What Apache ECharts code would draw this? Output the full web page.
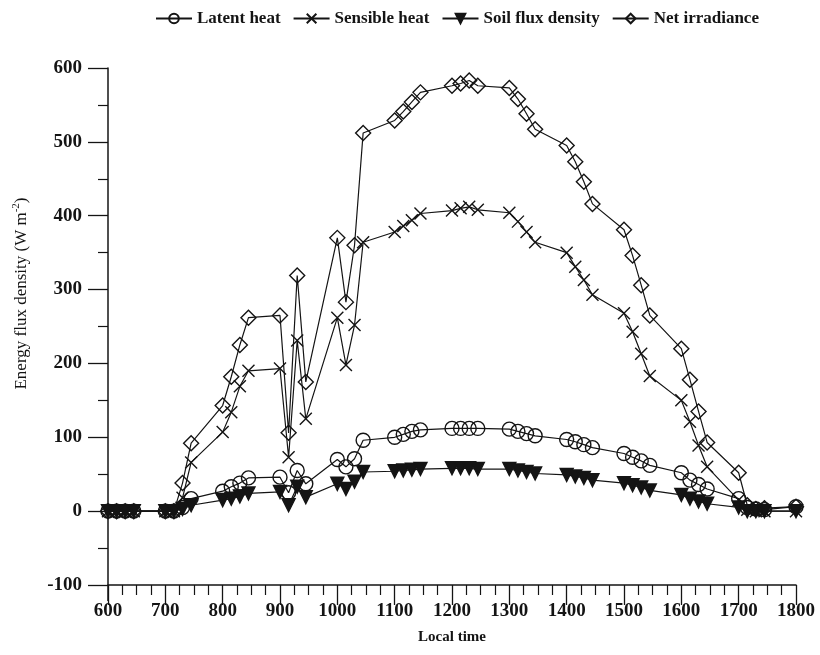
<!DOCTYPE html>
<html>
<head>
<meta charset="utf-8">
<script src="https://cdn.jsdelivr.net/npm/echarts@6/dist/echarts.min.js"></script>
<style>
  html, body { margin: 0; padding: 0; background: #fff; }
  #chart { width: 820px; height: 655px; }
</style>
</head>
<body>
<div id="chart"></div>
<script>
// Local time (hhmm), sampled every 15 minutes
const times = [
  600, 615, 630, 645,
  700, 715, 730, 745,
  800, 815, 830, 845,
  900, 915, 930, 945,
  1000, 1015, 1030, 1045,
  1100, 1115, 1130, 1145,
  1200, 1215, 1230, 1245,
  1300, 1315, 1330, 1345,
  1400, 1415, 1430, 1445,
  1500, 1515, 1530, 1545,
  1600, 1615, 1630, 1645,
  1700, 1715, 1730, 1745,
  1800
];

// Energy flux densities, W m-2
const latentHeat = [
  0, 0, 0, 0,
  0, 0, 5, 17,
  27, 33, 38, 45,
  46, 25, 55, 37,
  70, 60, 71, 96,
  100, 104, 108, 110,
  112, 112, 112, 112,
  111, 108, 105, 102,
  97, 94, 90, 86,
  78, 73, 68, 62,
  52, 42, 36, 30,
  17, 5, 3, 2,
  6
];

const sensibleHeat = [
  0, 0, 0, 0,
  0, 0, 18, 66,
  107, 134, 169, 190,
  193, 73, 231, 125,
  262, 198, 252, 364,
  378, 386, 394, 403,
  407, 410, 412, 408,
  404, 392, 378, 364,
  350, 331, 313, 293,
  268, 243, 213, 183,
  150, 121, 89, 60,
  15, 2, 0, 0,
  0
];

const soilFlux = [
  0, 0, 0, 0,
  0, 0, 3, 8,
  15, 17, 20, 24,
  26, 8, 33, 19,
  37, 30, 40, 53,
  54, 55, 56, 57,
  58, 58, 58, 57,
  57, 55, 53, 51,
  49, 47, 45, 42,
  38, 35, 32, 28,
  22, 17, 13, 10,
  5, 0, 0, 0,
  0
];

const netIrradiance = [
  0, 0, 0, 0,
  0, 0, 38, 92,
  143, 182, 225, 262,
  265, 106, 319, 175,
  370, 283, 360, 512,
  529, 541, 554, 567,
  576, 579, 583, 576,
  573, 558, 538, 517,
  495, 473, 446, 416,
  381, 346, 306, 265,
  220, 178, 135, 93,
  52, 8, 3, 4,
  6
];

const seriesNames = ['Latent heat', 'Sensible heat', 'Soil flux density', 'Net irradiance'];

const ink = '#141414';
const serif = '"Liberation Serif", "DejaVu Serif", serif';
const crossPath = 'path://M0,0L10,10M10,0L0,10';

function lineSeries(name, values, symbol, size, filled, rotate) {
  return {
    name: name,
    type: 'line',
    data: times.map((t, i) => [t, values[i]]),
    symbol: symbol,
    symbolSize: size,
    symbolRotate: rotate || 0,
    showAllSymbol: true,
    lineStyle: { color: ink, width: 1.2 },
    itemStyle: {
      color: filled ? ink : 'rgba(255,255,255,0)',
      borderColor: ink,
      borderWidth: 1.4
    },
    emphasis: { disabled: true }
  };
}

const chart = echarts.init(document.getElementById('chart'), null, { renderer: 'canvas' });

const axisInk = { color: ink, width: 1.5 };

chart.setOption({
  animation: false,
  backgroundColor: '#fff',
  grid: { left: 108, right: 24, top: 68, bottom: 70, containLabel: false },
  legend: {
    data: seriesNames,
    top: 5,
    left: 150,
    itemWidth: 36,
    itemHeight: 12,
    itemGap: 12,
    textStyle: { fontFamily: serif, fontWeight: 'bold', fontSize: 17, color: ink }
  },
  xAxis: {
    type: 'value',
    min: 600,
    max: 1800,
    interval: 100,
    name: 'Local time',
    nameLocation: 'middle',
    nameGap: 45,
    nameTextStyle: { fontFamily: serif, fontWeight: 'bold', fontSize: 15, color: ink },
    axisLine: { show: true, onZero: false, lineStyle: axisInk },
    axisTick: { show: true, length: 20, lineStyle: { color: ink, width: 1.3 } },
    minorTick: { show: true, splitNumber: 4, length: 10, lineStyle: { color: ink, width: 1.2 } },
    axisLabel: {
      margin: 17, fontFamily: serif, fontWeight: 'bold', fontSize: 19, color: ink,
      formatter: v => String(v)
    },
    splitLine: { show: false },
    minorSplitLine: { show: false }
  },
  yAxis: {
    type: 'value',
    min: -100,
    max: 600,
    interval: 100,
    name: 'Energy flux density (W m{sup|-2})',
    nameLocation: 'middle',
    nameGap: 76,
    nameTextStyle: {
      fontFamily: serif, fontSize: 17, color: ink,
      padding: [0, 0, 0, 66],
      rich: { sup: { fontFamily: serif, fontSize: 11, color: ink, padding: [0, 0, 10, 0] } }
    },
    axisLine: { show: true, onZero: false, lineStyle: axisInk },
    axisTick: { show: true, length: 20, lineStyle: { color: ink, width: 1.3 } },
    minorTick: { show: true, splitNumber: 2, length: 10, lineStyle: { color: ink, width: 1.2 } },
    axisLabel: {
      margin: 26, fontFamily: serif, fontWeight: 'bold', fontSize: 19, color: ink,
      formatter: v => String(v)
    },
    splitLine: { show: false },
    minorSplitLine: { show: false }
  },
  series: [
    lineSeries(seriesNames[0], latentHeat, 'circle', 14, false),
    lineSeries(seriesNames[1], sensibleHeat, crossPath, 12, false),
    lineSeries(seriesNames[2], soilFlux, 'triangle', 13, true, 180),
    lineSeries(seriesNames[3], netIrradiance, 'diamond', 15, false)
  ]
});

// The vertical axis line runs a little past the bottom axis
const corner = chart.convertToPixel({ gridIndex: 0 }, [600, -100]);
chart.setOption({
  graphic: [{
    type: 'line',
    shape: { x1: corner[0], y1: corner[1], x2: corner[0], y2: corner[1] + 16 },
    style: { stroke: ink, lineWidth: 1.5 },
    silent: true
  }]
});
</script>
</body>
</html>
